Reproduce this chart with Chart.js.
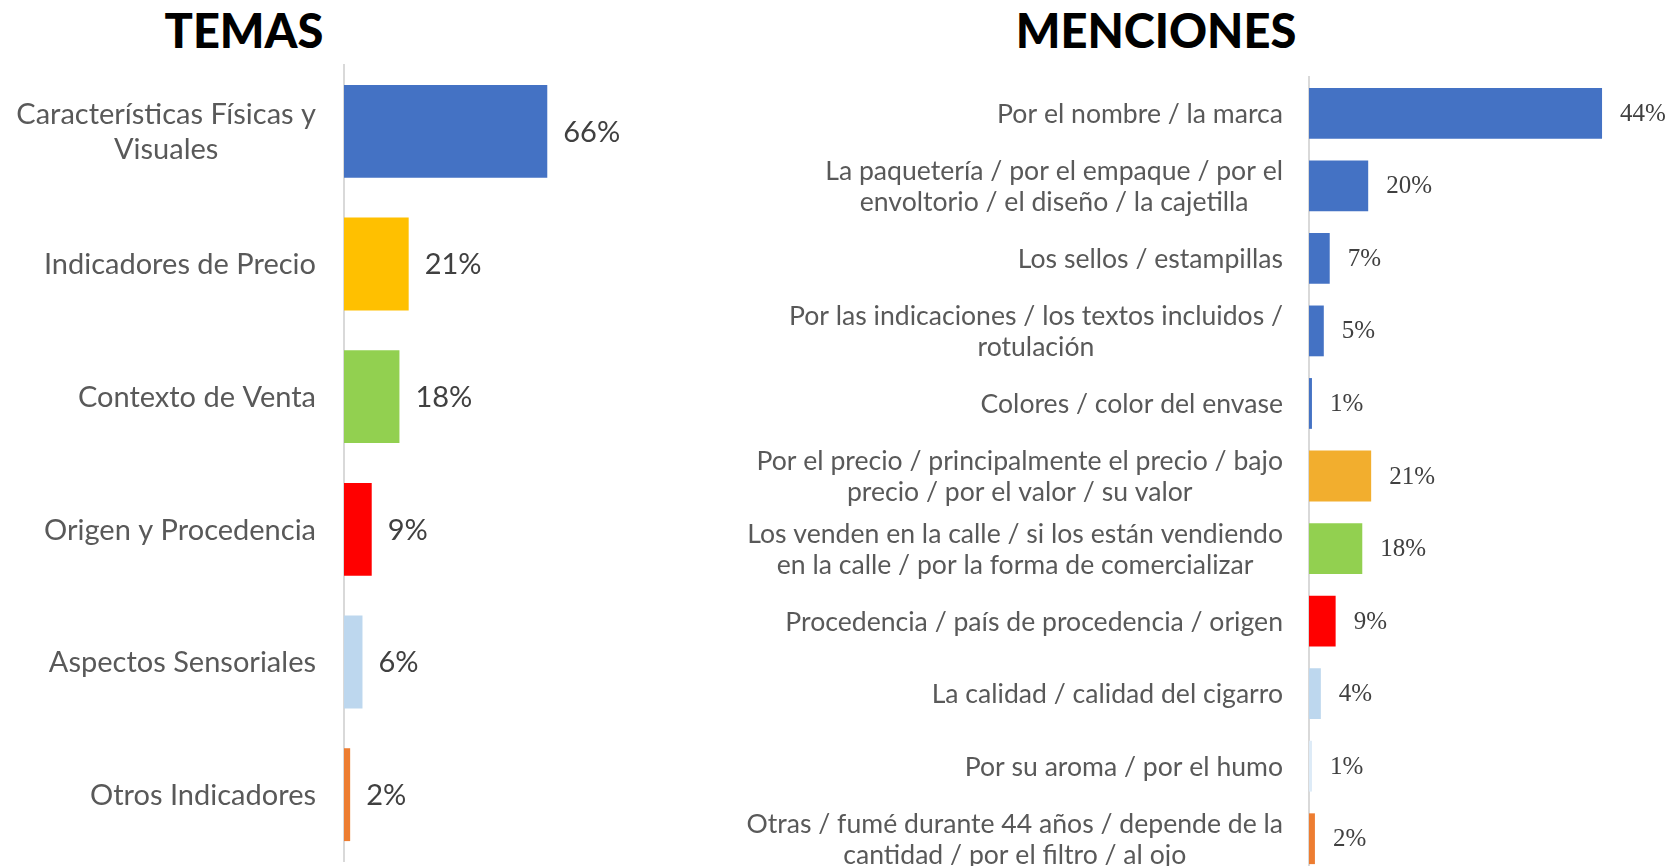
<!DOCTYPE html>
<html>
<head>
<meta charset="utf-8">
<script src="https://cdn.jsdelivr.net/npm/chart.js@4"></script>
<style>
    html, body { margin: 0; padding: 0; background: #fff; overflow: hidden; }
    body { width: 1670px; height: 866px; position: relative; }
    .title { position: absolute; top: 1px; font-family: Lato, sans-serif; font-weight: 900; font-size: 47px; color: #000; text-align: center; line-height: 58px; }
    #temasTitle { left: 134px; width: 220px; }
    #mencionesTitle { left: 996px; width: 320px; }
    #temasChart { position: absolute; left: 0; top: 0; }
    #mencionesChart { position: absolute; left: 700px; top: 0; }
</style>
</head>
<body>
<div class="title" id="temasTitle">TEMAS</div>
<div class="title" id="mencionesTitle">MENCIONES</div>
<canvas id="temasChart" width="720" height="866"></canvas>
<canvas id="mencionesChart" width="970" height="880"></canvas>
<script>
// Left chart: themes
const temasCategories = [
    ['Características Físicas y', 'Visuales'],
    'Indicadores de Precio',
    'Contexto de Venta',
    'Origen y Procedencia',
    'Aspectos Sensoriales',
    'Otros Indicadores'
];
const temasValues = [66, 21, 18, 9, 6, 2];
const temasColors = ['#4472C4', '#FFC000', '#92D050', '#FF0000', '#BDD7EE', '#ED7D31'];

// Right chart: mentions
const menCategories = [
    'Por el nombre / la marca',
    ['La paquetería / por el empaque / por el', 'envoltorio / el diseño / la cajetilla'],
    'Los sellos / estampillas',
    ['Por las indicaciones / los textos incluidos /', 'rotulación'],
    'Colores / color del envase',
    ['Por el precio / principalmente el precio / bajo', 'precio / por el valor / su valor'],
    ['Los venden en la calle / si los están vendiendo', 'en la calle / por la forma de comercializar'],
    'Procedencia / país de procedencia / origen',
    'La calidad / calidad del cigarro',
    'Por su aroma / por el humo',
    ['Otras / fumé durante 44 años / depende de la', 'cantidad / por el filtro / al ojo']
];
// percentages printed next to the bars
const menPercents = [44, 20, 7, 5, 1, 21, 18, 9, 4, 1, 2];
// bar lengths as drawn in the picture (the first bar is drawn longer than its label)
const menBarLengths = [99, 20, 7, 5, 1, 21, 18, 9, 4, 1, 2];
const menColors = ['#4472C4', '#4472C4', '#4472C4', '#4472C4', '#4472C4',
    '#F2AE2E', '#92D050', '#FF0000', '#BDD7EE', '#DDEBF7', '#ED7D31'];

// Small plugin: percent labels right of the bars, and category labels
// left of the axis (multi-line ones centred on their widest line)
const barLabels = {
    id: 'barLabels',
    afterDatasetsDraw(chart, args, opts) {
        const ctx = chart.ctx;
        const meta = chart.getDatasetMeta(0);
        const yScale = chart.scales.y;
        ctx.save();
        ctx.textBaseline = 'middle';

        // percent labels
        ctx.font = opts.font;
        ctx.fillStyle = opts.color;
        ctx.textAlign = 'left';
        meta.data.forEach((bar, i) => {
            ctx.fillText(opts.texts[i] + '%', bar.x + opts.offset, bar.y + (opts.dy || 0));
        });

        // category labels
        ctx.font = opts.catFont;
        ctx.fillStyle = opts.catColor;
        ctx.textAlign = 'center';
        const rightX = yScale.right - opts.catPadding;
        chart.data.labels.forEach((label, i) => {
            const lines = Array.isArray(label) ? label : [label];
            const widest = Math.max(...lines.map(l => ctx.measureText(l).width));
            const cx = rightX - widest / 2;
            const cy = yScale.getPixelForTick(i);
            const top = cy - (lines.length - 1) * opts.catLineHeight / 2;
            lines.forEach((line, j) => {
                ctx.fillText(line, cx, top + j * opts.catLineHeight + 1);
            });
        });
        ctx.restore();
    }
};

function makeChart(canvasId, labels, values, colors, cfg) {
    const ctx = document.getElementById(canvasId).getContext('2d');
    return new Chart(ctx, {
        type: 'bar',
        data: {
            labels: labels,
            datasets: [{
                data: values,
                backgroundColor: colors,
                borderWidth: 0,
                categoryPercentage: 1,
                barPercentage: 0.7
            }]
        },
        options: {
            indexAxis: 'y',
            responsive: false,
            animation: false,
            layout: { padding: cfg.padding },
            plugins: {
                legend: { display: false },
                title: { display: false },
                tooltip: { enabled: false },
                barLabels: cfg.labels
            },
            scales: {
                x: { display: false, min: 0, max: 100 },
                y: {
                    // fixed label column, and no extra space above/below for the labels
                    afterFit: (scale) => {
                        scale.width = cfg.axisWidth;
                        scale.paddingTop = 0;
                        scale.paddingBottom = 0;
                    },
                    grid: { display: false, drawTicks: false },
                    border: { display: true, color: '#D9D9D9', width: 2 },
                    ticks: { display: false }
                }
            }
        },
        plugins: [barLabels]
    });
}

makeChart('temasChart', temasCategories, temasValues, temasColors, {
    padding: { top: 65, bottom: 5, left: 0, right: 68 },
    axisWidth: 344,
    labels: {
        texts: temasValues, font: '29px Lato', color: '#404040', offset: 16, dy: 1,
        catFont: '29px Lato', catColor: '#595959', catPadding: 28, catLineHeight: 34.8
    }
});

makeChart('mencionesChart', menCategories, menBarLengths, menColors, {
    padding: { top: 77, bottom: 5, left: 0, right: 65 },
    axisWidth: 609,
    labels: {
        texts: menPercents, font: '25px "Liberation Serif"', color: '#404040', offset: 18, dy: 1,
        catFont: '26.6px Lato', catColor: '#595959', catPadding: 26, catLineHeight: 31.1
    }
});
</script>
</body>
</html>
